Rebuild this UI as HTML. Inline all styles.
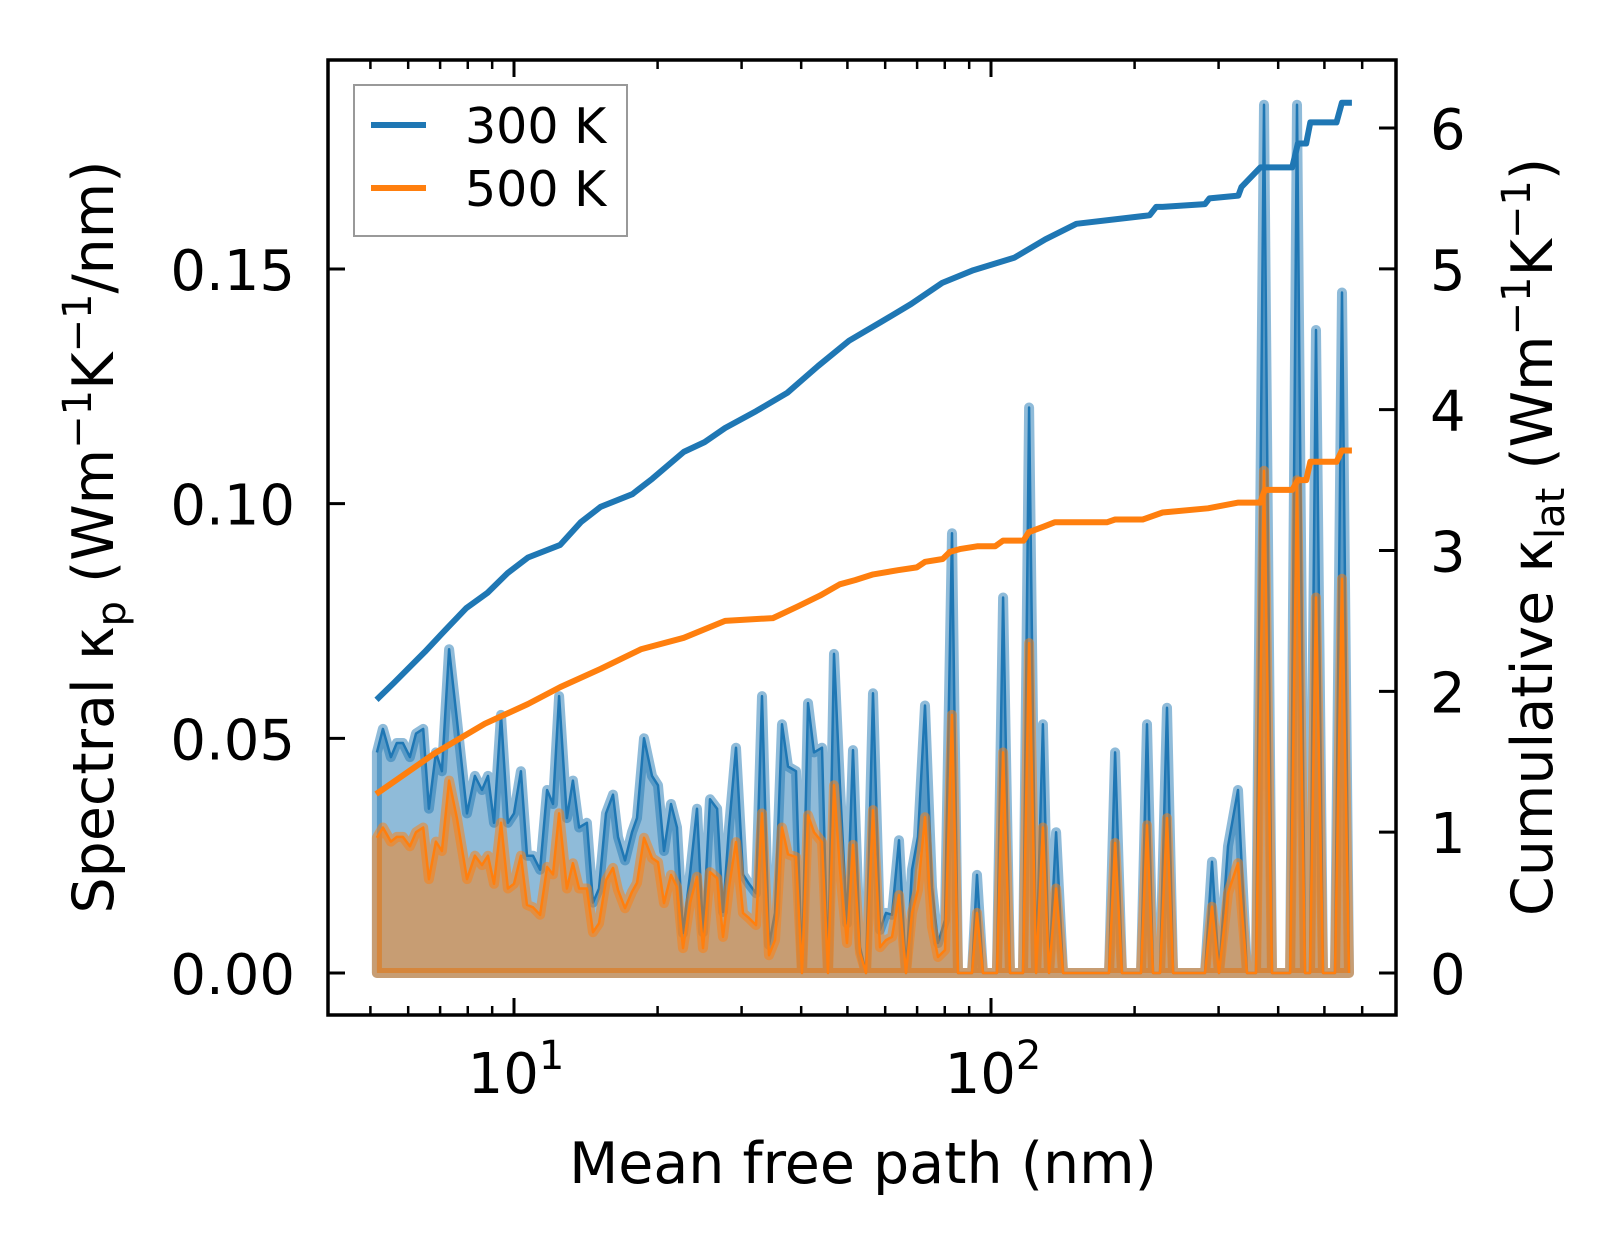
<!DOCTYPE html>
<html>
<head>
<meta charset="utf-8">
<style>
html,body{margin:0;padding:0;background:#fff;}
svg{display:block;}
text{font-family:"DejaVu Sans","Liberation Sans",sans-serif;fill:#000;}
</style>
</head>
<body>
<svg id="chart" xmlns="http://www.w3.org/2000/svg" width="1623" height="1254" viewBox="0 0 1623 1254">
  <rect x="0" y="0" width="1623" height="1254" fill="#fff"/>
  <defs><clipPath id="plotclip"><rect x="328" y="60" width="1068" height="955"/></clipPath></defs>
  <g id="marks" clip-path="url(#plotclip)"></g>
  <g id="axes"></g>
  <text x="863" y="1183" font-size="57" text-anchor="middle">Mean free path (nm)</text>
  <text transform="translate(113,537) rotate(-90)" font-size="57" text-anchor="middle">Spectral κ<tspan font-size="40" dy="12">p</tspan><tspan dy="-12"> (Wm</tspan><tspan font-size="40" dy="-22">−1</tspan><tspan dy="22">K</tspan><tspan font-size="40" dy="-22">−1</tspan><tspan dy="22">/nm)</tspan></text>
  <text transform="translate(1552,537) rotate(-90)" font-size="57" text-anchor="middle">Cumulative κ<tspan font-size="40" dy="12">lat</tspan><tspan dy="-12"> (Wm</tspan><tspan font-size="40" dy="-22">−1</tspan><tspan dy="22">K</tspan><tspan font-size="40" dy="-22">−1</tspan><tspan dy="22">)</tspan></text>
  <g>
    <rect x="354" y="85" width="273" height="151" fill="#fff" fill-opacity="0.8" stroke="#999" stroke-width="2"/>
    <line x1="371" y1="125" x2="426" y2="125" stroke="#1f77b4" stroke-width="6"/>
    <text x="465" y="143" font-size="49">300 K</text>
    <line x1="371" y1="188" x2="426" y2="188" stroke="#ff7f0e" stroke-width="6"/>
    <text x="465" y="206" font-size="49">500 K</text>
  </g>
</svg>
<script>
// spectral data
const mfp = [5.16,5.31,5.52,5.68,5.85,6.05,6.23,6.45,6.63,6.86,7.06,7.31,7.59,7.97,8.28,8.57,8.82,9.08,9.39,9.71,10.0,10.34,10.65,10.96,11.34,11.73,12.07,12.43,12.91,13.29,13.69,14.22,14.64,15.07,15.59,16.13,16.52,17.09,17.68,18.11,18.73,19.47,20.04,20.63,21.34,21.96,22.61,23.39,24.19,24.90,25.76,26.65,27.43,28.23,29.20,30.21,31.10,32.16,33.11,34.24,35.25,36.46,37.53,39.01,40.16,41.34,42.56,44.23,45.53,46.87,48.25,49.91,51.37,53.14,54.70,56.57,58.52,60.24,62.01,64.14,66.34,68.30,70.31,72.72,75.22,77.43,80.09,82.84,85.27,88.21,91.25,93.46,96.21,99.52,102.9,106.0,109.6,113.4,116.7,120.2,124.3,128.5,132.3,136.9,141.6,146.4,150.7,155.9,160.5,166.0,170.9,176.8,182.0,188.2,193.8,200.4,206.3,212.3,218.6,226.1,233.9,240.8,249.0,256.4,265.2,273.0,281.0,290.6,300.6,314.0,329.5,344.1,359.4,373.6,388.3,399.7,411.5,423.6,438.1,455.3,466.5,480.0,496.6,511.2,526.2,544.3,563.0];
const spec300 = [.047,.052,.046,.049,.049,.046,.051,.052,.035,.047,.043,.069,.054,.034,.042,.039,.042,.032,.055,.032,.034,.043,.025,.025,.022,.039,.036,.059,.033,.041,.031,.032,.015,.018,.034,.038,.029,.024,.030,.033,.050,.042,.040,.026,.036,.031,.0085,.021,.035,.0087,.037,.035,.013,.031,.048,.021,.019,.017,.059,.006,.0128,.053,.044,.043,0,.0575,.047,.048,0,.068,.0396,.0106,.0475,.0055,0,.0596,.0092,.0128,.0124,.0283,0,.022,.029,.057,.0183,.0064,.0113,.0937,0,0,0,.0209,0,0,0,.080,0,0,0,.1205,0,.053,0,.030,0,0,0,0,0,0,0,0,.047,0,0,0,0,.053,0,0,.0565,0,0,0,0,0,0,.0237,0,.027,.039,0,0,.185,0,0,0,0,.185,0,0,.137,0,0,0,.145,0];
const spec500 = [.0288,.031,.028,.029,.029,.027,.030,.031,.020,.028,.026,.041,.033,.020,.025,.023,.025,.019,.032,.018,.019,.025,.0145,.014,.0124,.0226,.021,.034,.018,.0234,.018,.018,.0087,.0106,.0198,.0224,.0177,.0138,.0173,.0192,.0288,.0245,.0236,.0149,.0209,.0183,.0053,.0149,.0205,.0053,.0215,.0202,.0077,.0183,.0279,.0128,.0117,.0102,.034,.0038,.007,.031,.0253,.0247,0,.0336,.030,.0279,0,.040,.022,.0064,.0273,.0043,0,.0347,.0055,.007,.0077,.0166,0,.0128,.0177,.0332,.0098,.0034,.0049,.055,0,0,0,.0128,0,0,0,.047,0,0,0,.0703,0,.031,0,.018,0,0,0,0,0,0,0,0,.0277,0,0,0,0,.0315,0,0,.033,0,0,0,0,0,0,.0141,0,.017,.0234,0,0,.107,0,0,0,0,.105,0,0,.080,0,0,0,.084,0];
// cumulative data
const cumMfp300 = [5.15,5.6,6.5,7.2,7.94,8.8,9.7,10.7,12.5,13.8,15.2,17.7,19.5,22.7,25.1,27.7,32.2,37.4,43.4,50.4,58.6,68,79,91.8,112,130,151,215,222,229,281,287,330,335,367,375,428,440,458,467,530,544,571];
const cum300 = [1.94,2.06,2.28,2.44,2.59,2.70,2.84,2.95,3.04,3.20,3.31,3.40,3.51,3.70,3.77,3.87,3.99,4.12,4.31,4.49,4.62,4.75,4.90,4.99,5.08,5.21,5.32,5.38,5.44,5.44,5.46,5.50,5.52,5.58,5.72,5.72,5.72,5.89,5.89,6.04,6.04,6.18,6.18];
const cumMfp500 = [5.14,6.82,8.69,10.7,12.5,15.2,18.5,22.7,27.7,34.9,39.2,43.8,48.2,51.9,56.6,63.8,69.9,72.8,79.2,82,86,93.5,102,106,117,120,129,136,175,182,208,229,285,330,367,375,428,440,458,467,490,530,544,571];
const cum500 = [1.27,1.56,1.77,1.91,2.03,2.16,2.30,2.38,2.50,2.52,2.60,2.68,2.76,2.79,2.83,2.86,2.88,2.92,2.94,2.99,3.01,3.03,3.03,3.07,3.07,3.13,3.17,3.20,3.20,3.22,3.22,3.27,3.30,3.34,3.34,3.43,3.43,3.50,3.50,3.63,3.63,3.63,3.71,3.71];
// tick labels
const leftTicks = [0, 0.05, 0.10, 0.15];
const leftTickLabels = ["0.00","0.05","0.10","0.15"];
const rightTicks = [0,1,2,3,4,5,6];
const xMajor = [10, 100];
const xMinor = [5,6,7,8,9,20,30,40,50,60,70,80,90,200,300,400,500,600];

const NS = "http://www.w3.org/2000/svg";
const L = 328, R = 1396, T = 60, B = 1015;
function X(m){ return 514 + 477*(Math.log10(m)-1); }
function YL(v){ return 973 - v*(973-269)/0.15; }
function YR(v){ return 973 - v*(973-128)/6; }
function mk(tag, attrs, parent){ const e=document.createElementNS(NS,tag); for(const k in attrs) e.setAttribute(k,attrs[k]); parent.appendChild(e); return e; }
const marks = document.getElementById('marks');
const axes = document.getElementById('axes');

function spectral(vals, color, name){
  const pts = vals.map((v,i)=>X(mfp[i]).toFixed(1)+','+YL(v).toFixed(1));
  const poly = pts.concat([X(mfp[mfp.length-1]).toFixed(1)+','+YL(0).toFixed(1), X(mfp[0]).toFixed(1)+','+YL(0).toFixed(1)]);
  const f = mk('polygon',{points:poly.join(' '),fill:color,'fill-opacity':0.5,stroke:color,'stroke-opacity':0.5,'stroke-width':10,'stroke-linejoin':'round'},marks);
  
  
  const l = mk('polyline',{points:pts.join(' '),fill:'none',stroke:color,'stroke-width':2.5,'stroke-linejoin':'round'},marks);
  
  
}
spectral(spec300,'#1f77b4','spectral-300k');
spectral(spec500,'#ff7f0e','spectral-500k');

function cumLine(xs, vals, color, name){
  const pts = vals.map((v,i)=>X(xs[i]).toFixed(1)+','+YR(v).toFixed(1));
  const l = mk('polyline',{points:pts.join(' '),fill:'none',stroke:color,'stroke-width':6,'stroke-linejoin':'round'},marks);
  
  
}
cumLine(cumMfp300, cum300, '#1f77b4', 'cumulative-300k');
cumLine(cumMfp500, cum500, '#ff7f0e', 'cumulative-500k');

// frame
const fr = mk('rect',{x:L,y:T,width:R-L,height:B-T,fill:'none',stroke:'#000','stroke-width':3.5},axes);


// x ticks
xMajor.forEach((m,i)=>{
  const x=X(m);
  mk('line',{x1:x,y1:B,x2:x,y2:B-17,stroke:'#000','stroke-width':3},axes);
  mk('line',{x1:x,y1:T,x2:x,y2:T+17,stroke:'#000','stroke-width':3},axes);
  const t = mk('text',{x:x+2,y:1093,'font-size':56,'text-anchor':'middle'},axes);
  
  
  t.textContent='10';
  const s = mk('tspan',{'font-size':40,dy:-24},t);
  s.textContent = String(Math.round(Math.log10(m)));
});
xMinor.forEach(m=>{
  const x=X(m);
  mk('line',{x1:x,y1:B,x2:x,y2:B-9,stroke:'#000','stroke-width':2.5},axes);
  mk('line',{x1:x,y1:T,x2:x,y2:T+9,stroke:'#000','stroke-width':2.5},axes);
});
// left ticks
leftTicks.forEach((v,i)=>{
  const y=YL(v);
  mk('line',{x1:L,y1:y,x2:L+17,y2:y,stroke:'#000','stroke-width':3},axes);
  const t = mk('text',{x:295,y:y+21,'font-size':56,'text-anchor':'end'},axes);
  
  
  t.textContent = leftTickLabels[i];
});
// right ticks
rightTicks.forEach(v=>{
  const y=YR(v);
  mk('line',{x1:R,y1:y,x2:R-17,y2:y,stroke:'#000','stroke-width':3},axes);
  const t = mk('text',{x:1430,y:y+21,'font-size':56},axes);
  
  
  t.textContent = String(v);
});
</script>
</body>
</html>
